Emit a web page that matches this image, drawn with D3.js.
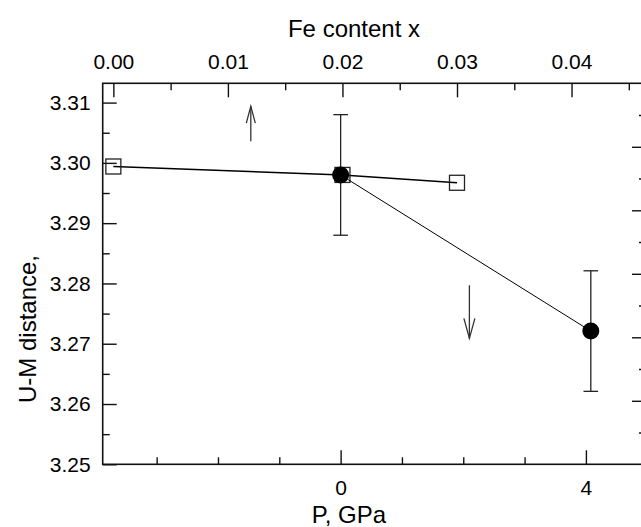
<!DOCTYPE html>
<html>
<head>
<meta charset="utf-8">
<script src="https://cdn.jsdelivr.net/npm/d3@7"></script>
<style>
  html, body { margin: 0; padding: 0; background: #fff; }
  svg { display: block; }
  text { font-family: "Liberation Sans", Arial, Helvetica, sans-serif; fill: #000; }
</style>
</head>
<body>
<svg id="chart" width="641" height="527"></svg>
<script>
// ---- data ----
const feContent = [0.00, 0.02, 0.03];
const distFe = [3.2994, 3.2980, 3.2967];
const pressure = [0, 4.08];
const distP = [3.2980, 3.2721];
const errP = [0.010, 0.010];

const yTickLabels = [3.25, 3.26, 3.27, 3.28, 3.29, 3.30, 3.31];
const yMinorTicks = [3.255, 3.265, 3.275, 3.285, 3.295, 3.305];
const feTickLabels = [0.00, 0.01, 0.02, 0.03, 0.04];
const feMinorTicks = [0.005, 0.015, 0.025, 0.035, 0.045];
const pTickLabels = [0, 4];
const pMinorTicks = [-3, -2, -1, 1, 2, 3];
const rightMajorTicks = [1, 2, 3, 4, 5];
const rightMinorTicks = [0.5, 1.5, 2.5, 3.5, 4.5, 5.5];

const arrowFe = { x: 0.012, from: 3.3036, to: 3.3094 };
const arrowP = { x: 2.1, from: 3.2797, to: 3.2709 };

const titleTop = "Fe content x";
const titleBottom = "P, GPa";
const titleLeft = "U-M distance,";

// ---- layout ----
const L = 102.7, R = 646, T = 83.3, B = 464.3;
const svg = d3.select("#chart");

const y = d3.scaleLinear().domain([3.25, 3.3132]).range([B, T]);
const xFe = d3.scaleLinear().domain([-0.00093, 0.0465]).range([L, R]);
const xP = d3.scaleLinear().domain([-3.88, 4.98]).range([L, R]);
const yR = d3.scaleLinear().domain([0, 6]).range([B, T]);

function styleAxis(g, fs) {
  g.select(".domain").remove();
  g.selectAll(".tick line").attr("stroke", "#111").attr("stroke-width", 1.4);
  g.selectAll(".tick text").style("font-size", fs + "px").attr("fill", "#000");
}

// left axis
svg.append("g").attr("transform", `translate(${L},0)`)
  .call(d3.axisLeft(y).tickValues(yTickLabels).tickSizeInner(-14).tickSizeOuter(0).tickPadding(12).tickFormat(d3.format(".2f")))
  .call(g => styleAxis(g, 21));
svg.append("g").attr("transform", `translate(${L},0)`)
  .call(d3.axisLeft(y).tickValues(yMinorTicks).tickSizeInner(-7).tickSizeOuter(0).tickFormat(""))
  .call(g => styleAxis(g, 21));

// top axis
svg.append("g").attr("transform", `translate(0,${T})`)
  .call(d3.axisTop(xFe).tickValues(feTickLabels).tickSizeInner(-14).tickSizeOuter(0).tickPadding(14).tickFormat(d3.format(".2f")))
  .call(g => styleAxis(g, 21));
svg.append("g").attr("transform", `translate(0,${T})`)
  .call(d3.axisTop(xFe).tickValues(feMinorTicks).tickSizeInner(-7).tickSizeOuter(0).tickFormat(""))
  .call(g => styleAxis(g, 21));

// bottom axis
svg.append("g").attr("transform", `translate(0,${B})`)
  .call(d3.axisBottom(xP).tickValues(pTickLabels).tickSizeInner(-14).tickSizeOuter(0).tickPadding(16).tickFormat(d3.format("d")))
  .call(g => styleAxis(g, 21));
svg.append("g").attr("transform", `translate(0,${B})`)
  .call(d3.axisBottom(xP).tickValues(pMinorTicks).tickSizeInner(-7).tickSizeOuter(0).tickFormat(""))
  .call(g => styleAxis(g, 21));

// right axis (unlabelled)
svg.append("g").attr("transform", `translate(${R},0)`)
  .call(d3.axisRight(yR).tickValues(rightMajorTicks).tickSizeInner(-14).tickSizeOuter(0).tickFormat(""))
  .call(g => styleAxis(g, 21));
svg.append("g").attr("transform", `translate(${R},0)`)
  .call(d3.axisRight(yR).tickValues(rightMinorTicks).tickSizeInner(-7).tickSizeOuter(0).tickFormat(""))
  .call(g => styleAxis(g, 21));

// frame
svg.append("rect").attr("x", L).attr("y", T).attr("width", R - L).attr("height", B - T)
  .attr("fill", "none").attr("stroke", "#111").attr("stroke-width", 1.6);

// titles
svg.append("text").attr("x", 354).attr("y", 37).attr("text-anchor", "middle")
  .style("font-size", "24px").text(titleTop);
svg.append("text").attr("x", 349).attr("y", 523).attr("text-anchor", "middle")
  .style("font-size", "24px").text(titleBottom);
svg.append("text").attr("transform", `translate(36,403) rotate(-90)`).attr("text-anchor", "start")
  .style("font-size", "24px").text(titleLeft);

// ---- series: Fe content (open squares) ----
const feData = feContent.map((c, i) => ({ x: c, y: distFe[i] }));
svg.append("path").datum(feData)
  .attr("fill", "none").attr("stroke", "#000").attr("stroke-width", 1.4)
  .attr("d", d3.line().x(d => xFe(d.x)).y(d => y(d.y)));
const sq = 15;
svg.selectAll("rect.sq").data(feData).join("rect").attr("class", "sq")
  .attr("x", d => xFe(d.x) - sq / 2).attr("y", d => y(d.y) - sq / 2)
  .attr("width", sq).attr("height", sq)
  .attr("fill", "none").attr("stroke", "#222").attr("stroke-width", 1.3);

// ---- series: pressure (filled circles with error bars) ----
const pData = pressure.map((p, i) => ({ x: p, y: distP[i], e: errP[i] }));
svg.append("path").datum(pData)
  .attr("fill", "none").attr("stroke", "#000").attr("stroke-width", 1.0)
  .attr("d", d3.line().x(d => xP(d.x)).y(d => y(d.y)));
const eb = svg.selectAll("g.eb").data(pData).join("g").attr("class", "eb")
  .attr("stroke", "#222").attr("stroke-width", 1.3);
eb.append("line").attr("x1", d => xP(d.x)).attr("x2", d => xP(d.x))
  .attr("y1", d => y(d.y - d.e)).attr("y2", d => y(d.y + d.e));
eb.append("line").attr("x1", d => xP(d.x) - 7.3).attr("x2", d => xP(d.x) + 7.3)
  .attr("y1", d => y(d.y - d.e)).attr("y2", d => y(d.y - d.e));
eb.append("line").attr("x1", d => xP(d.x) - 7.3).attr("x2", d => xP(d.x) + 7.3)
  .attr("y1", d => y(d.y + d.e)).attr("y2", d => y(d.y + d.e));
svg.selectAll("circle.pt").data(pData).join("circle").attr("class", "pt")
  .attr("cx", d => xP(d.x)).attr("cy", d => y(d.y)).attr("r", 8.5).attr("fill", "#000");

// ---- arrows ----
function arrow(px, y0, y1, len, hw) {
  const dir = y1 < y0 ? 1 : -1; // head opens backward
  const g = svg.append("g").attr("stroke", "#333").attr("stroke-width", 1.3).attr("fill", "none");
  g.append("line").attr("x1", px).attr("x2", px).attr("y1", y0).attr("y2", y1);
  g.append("path").attr("d", `M${px - hw},${y1 + dir * len} L${px},${y1} L${px + hw},${y1 + dir * len}`);
}
arrow(xFe(arrowFe.x), y(arrowFe.from), y(arrowFe.to), 17, 4.5);
arrow(xP(arrowP.x), y(arrowP.from), y(arrowP.to), 20, 5.5);
</script>
</body>
</html>
